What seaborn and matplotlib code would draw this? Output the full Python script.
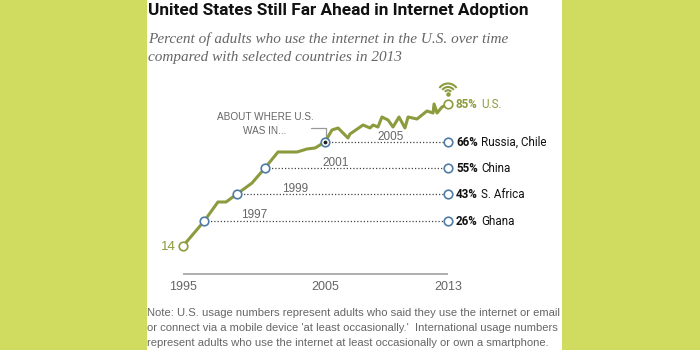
import matplotlib
matplotlib.use("Agg")
import matplotlib.pyplot as plt
from matplotlib.patches import Arc, Rectangle
import pandas as pd
import seaborn as sns

# data
years = [1995.0, 1996.5, 1997.46, 1998.03, 1998.8, 1999.86, 2000.77, 2001.69, 2003.03,
         2003.73, 2004.3, 2005.0, 2005.49, 2005.92, 2006.62, 2006.76, 2007.68, 2008.17,
         2008.38, 2008.73, 2009.01, 2009.44, 2009.79, 2010.21, 2010.63, 2010.85, 2011.48,
         2012.18, 2012.61, 2012.68, 2012.89, 2013.24, 2013.66]
usage = [14, 26.5, 36, 36, 40, 45.5, 53, 61, 61, 62.5, 63, 66, 72, 73, 68, 70, 74.5, 73,
         74.5, 73.5, 78.5, 77, 73.5, 78.5, 73, 78.5, 77.5, 81.5, 80.5, 85, 80.5, 83.5, 85]

match_years = [1996.5, 1998.8, 2000.77, 2005.0]
match_levels = [26.5, 40, 53, 66]
match_names = ["1997", "1999", "2001", "2005"]
country_pcts = ["26%", "43%", "55%", "66%"]
country_names = ["Ghana", "S. Africa", "China", "Russia, Chile"]

tick_pos = [1995.0, 2005.0, 2013.66]
tick_labels = ["1995", "2005", "2013"]

GREEN = "#8b9b3d"
BLUE = "#4f7ca6"
GREY = "#666666"
END = years[-1]

sns.set_style("white")
plt.rcParams["font.family"] = ["Liberation Sans", "DejaVu Sans"]

fig = plt.figure(figsize=(7, 3.5), dpi=100, facecolor="#cfdc60")

# pixel layer for the panel and all the text
bg = fig.add_axes([0, 0, 1, 1], zorder=0)
bg.set_xlim(0, 700)
bg.set_ylim(350, 0)
bg.axis("off")
bg.add_patch(Rectangle((147, 0), 415, 350, color="white", lw=0))

# data layer, 14.2 px per year and 2 px per percent
ax = fig.add_axes([0, 0, 1, 1], zorder=1)
ax.patch.set_alpha(0)
ax.set_xlim(1995 - 183 / 14.2, 1995 + 517 / 14.2)
ax.set_ylim(14 - 104 / 2, 14 + 246 / 2)
ax.axis("off")

df = pd.DataFrame({"year": years, "usage": usage})
ax.hlines(match_levels, match_years, END, color="#444444", lw=0.9, linestyles=(0, (1, 1.6)), zorder=1)
sns.lineplot(data=df, x="year", y="usage", color=GREEN, lw=2.2, ax=ax, zorder=2, errorbar=None, estimator=None, sort=False)
ax.scatter(match_years, match_levels, s=38, facecolor="white", edgecolor=BLUE, lw=1.2, zorder=3)
ax.scatter([END] * 4, match_levels, s=38, facecolor="white", edgecolor=BLUE, lw=1.2, zorder=3)
ax.scatter([2005.0], [66], s=3, color="#222222", zorder=4)
ax.scatter([years[0], END], [usage[0], usage[-1]], s=38, facecolor="white", edgecolor=GREEN, lw=1.2, zorder=3)

# x axis
ax.hlines(14 + (246 - 274) / 2, 1995.0, END, color="#999999", lw=1.1)
for pos, lab in zip(tick_pos, tick_labels):
    ax.annotate(lab, (pos, 14 + (246 - 274) / 2), xytext=(0, -9.5), textcoords="offset points",
                ha="center", va="center", fontsize=9, color=GREY)

# match year labels above the dotted lines
for x_px, level, lab in zip([254, 295, 336, 391], match_levels, match_names):
    bg.text(x_px, 246 - (level - 14) * 2 - 5.5, lab, ha="center", va="center", fontsize=8.5, color=GREY)

# right side labels
for level, pct, name in zip(match_levels, country_pcts, country_names):
    y_px = 246 - (level - 14) * 2 + 0.5
    bg.text(456, y_px, pct, ha="left", va="center", fontsize=8.4, fontweight="bold", color="#111111", family="Roboto")
    bg.text(481, y_px, name, ha="left", va="center", fontsize=8.4, color="#111111", family="Roboto")
bg.text(456, 104.5, "85%", ha="left", va="center", fontsize=8.4, fontweight="bold", color=GREEN, family="Roboto")
bg.text(481, 104.5, "U.S.", ha="left", va="center", fontsize=8.4, color=GREEN, family="Roboto")
bg.text(176, 247, "14", ha="right", va="center", fontsize=9.5, color=GREEN)

# callout
bg.text(265, 117, "ABOUT WHERE U.S.", ha="center", va="center", fontsize=7.2, color=GREY)
bg.text(265, 131, "WAS IN...", ha="center", va="center", fontsize=7.2, color=GREY)
bg.plot([311, 326, 326], [128, 128, 138], color="#999999", lw=0.9)

# wifi symbol
for w in [21, 14, 7.5]:
    bg.add_patch(Arc((448, 94), w, w, theta1=215, theta2=325, color=GREEN, lw=1.5))
bg.scatter([448], [93.5], s=5, color=GREEN)

# headings
bg.text(148, 10, "United States Still Far Ahead in Internet Adoption", ha="left", va="center",
        fontsize=12.4, fontweight="bold", color="#111111", family="Roboto")
for y_px, line in zip([39, 57], ["Percent of adults who use the internet in the U.S. over time",
                                 "compared with selected countries in 2013"]):
    bg.text(148, y_px, line, ha="left", va="center", fontsize=10.95, style="italic",
            color=GREY, family="Liberation Serif")

# note
notes = ["Note: U.S. usage numbers represent adults who said they use the internet or email",
         "or connect via a mobile device 'at least occasionally.'  International usage numbers",
         "represent adults who use the internet at least occasionally or own a smartphone."]
for y_px, line in zip([313, 328, 343], notes):
    bg.text(147, y_px, line, ha="left", va="center", fontsize=8.1, color=GREY)

fig.savefig("out.png", dpi=100, facecolor=fig.get_facecolor())
